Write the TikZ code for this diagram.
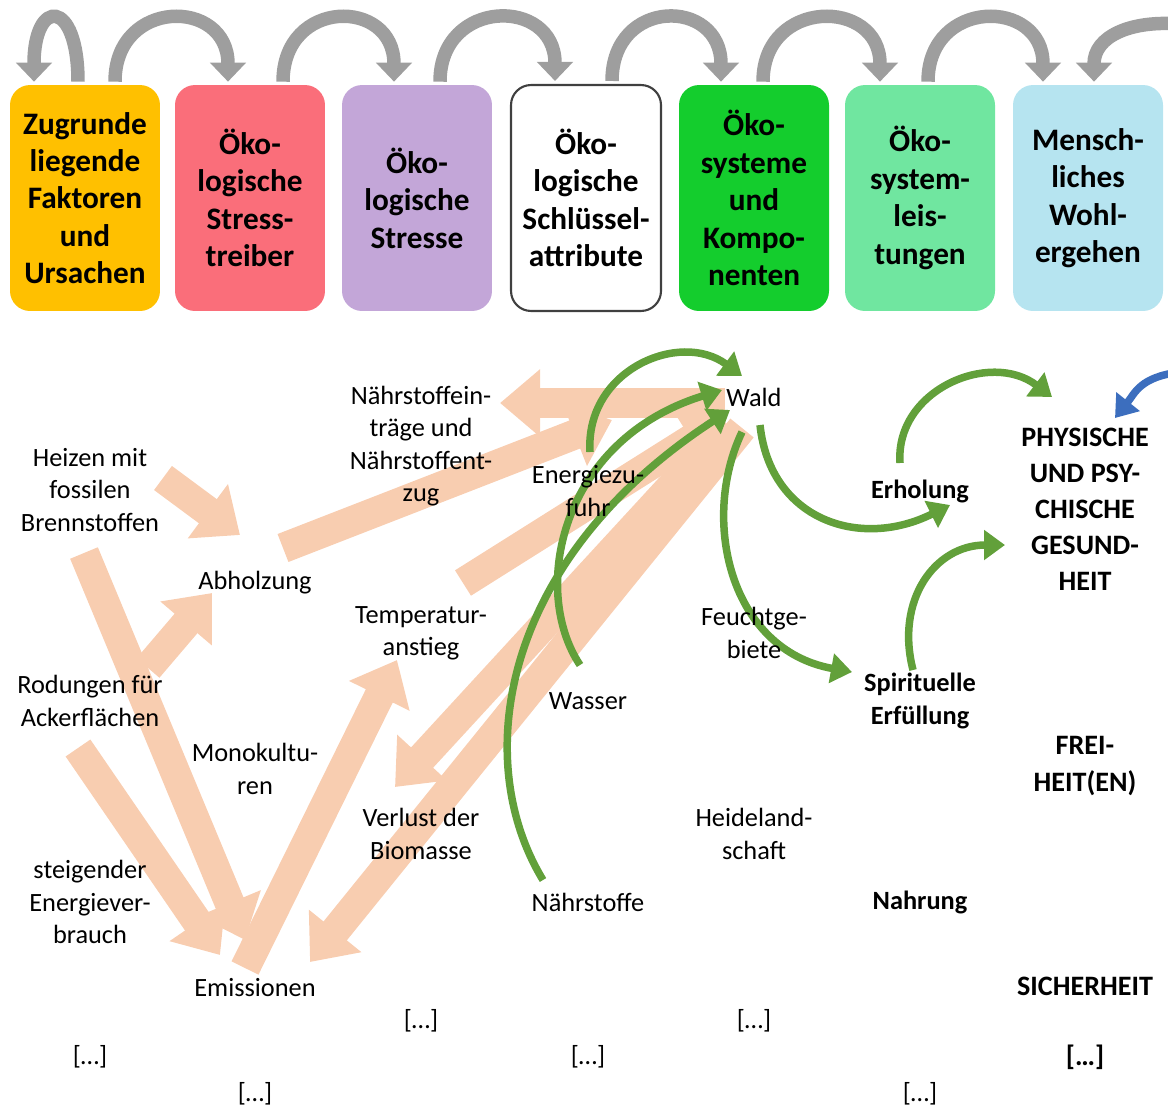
\documentclass[tikz,border=0pt]{standalone}
\usepackage{fontspec}
\setmainfont{Carlito}
\usetikzlibrary{arrows.meta,backgrounds}

\definecolor{gold}{RGB}{255,192,0}
\definecolor{rose}{RGB}{250,110,122}
\definecolor{lilac}{RGB}{195,166,216}
\definecolor{leaf}{RGB}{20,205,45}
\definecolor{mint}{RGB}{112,230,160}
\definecolor{sky}{RGB}{182,228,240}
\definecolor{peach}{RGB}{248,205,176}
\definecolor{grass}{RGB}{98,160,58}
\definecolor{arcgray}{RGB}{158,158,158}
\definecolor{bluearc}{RGB}{60,110,190}

\begin{document}
\begin{tikzpicture}[x=0.02cm, y=-0.02cm,
    every node/.style={font=\fontsize{15}{18.4}\selectfont, align=center, inner sep=1pt},
    boldlbl/.style={font=\fontsize{15}{18.4}\selectfont\bfseries},
    capslbl/.style={font=\fontsize{16}{20.5}\selectfont\bfseries},
    box/.style={rounded corners=0.4cm, minimum width=3cm, minimum height=4.52cm,
        font=\fontsize{17.8}{21.3}\selectfont\bfseries},
    grayarc/.style={draw=arcgray, line width=0.27cm, -{Triangle[width=0.7cm,length=0.38cm]}},
    flow/.style={draw=peach, line width=0.6cm, -{Triangle[width=1.3cm,length=0.8cm]}},
    eco/.style={draw=grass, line width=0.15cm, -{Triangle[width=0.58cm,length=0.42cm]}}]

    \useasboundingbox (0,0) rectangle (1168,1109);

    % Boxes
    \node[box, fill=gold]  (b1) at (85,198)   {Zugrunde\\liegende\\Faktoren\\und\\Ursachen};
    \node[box, fill=rose]  (b2) at (250,198)  {Öko-\\logische\\Stress-\\treiber};
    \node[box, fill=lilac] (b3) at (417,198)  {Öko-\\logische\\Stresse};
    \node[box, draw=black!75, line width=1.2pt, fill=white] (b4) at (586,198) {Öko-\\logische\\Schlüssel-\\attribute};
    \node[box, fill=leaf]  (b5) at (754,198)  {Öko-\\systeme\\und\\Kompo-\\nenten};
    \node[box, fill=mint]  (b6) at (920,198)  {Öko-\\system-\\leis-\\tungen};
    \node[box, fill=sky]   (b7) at (1088,198) {Mensch-\\liches\\Wohl-\\ergehen};

    % Arcs between the boxes
    \coordinate (offtop) at (1180,24);
    \draw[grayarc] ([shift={(-7,-3)}]b1.north) .. controls +(0,-84) and +(0,-84) .. ([shift={(-51,-3)}]b1.north);
    \draw[grayarc] ([shift={(30,-3)}]b1.north) .. controls +(0,-84) and +(0,-84) .. ([shift={(-22,-3)}]b2.north);
    \draw[grayarc] ([shift={(33,-3)}]b2.north) .. controls +(0,-84) and +(0,-84) .. ([shift={(-23,-3)}]b3.north);
    \draw[grayarc] ([shift={(23,-3)}]b3.north) .. controls +(0,-84) and +(0,-84) .. ([shift={(-31,-3)}]b4.north);
    \draw[grayarc] ([shift={(26,-3)}]b4.north) .. controls +(0,-84) and +(0,-84) .. ([shift={(-33,-3)}]b5.north);
    \draw[grayarc] ([shift={(9,-3)}]b5.north) .. controls +(0,-84) and +(0,-84) .. ([shift={(-40,-3)}]b6.north);
    \draw[grayarc] ([shift={(8,-3)}]b6.north) .. controls +(0,-84) and +(0,-84) .. ([shift={(-45,-3)}]b7.north);
    \draw[grayarc] (offtop) .. controls +(-50,-4) and +(0,-45) .. ([shift={(6,-3)}]b7.north);

    % Stress drivers and stresses
    \node (heizen)  at (90,490)  {Heizen mit\\fossilen\\Brennstoffen};
    \node (rodung)  at (90,701)  {Rodungen für\\Ackerflächen};
    \node (steig)   at (90,902)  {steigender\\Energiever-\\brauch};
    \node (abholz)  at (255,583) {Abholzung};
    \node (mono)    at (255,769) {Monokultu-\\ren};
    \node (emiss)   at (255,988) {Emissionen};
    \node (naehr)   at (421,446) {Nährstoffein-\\träge und\\Nährstoffent-\\zug};
    \node (temp)    at (421,633) {Temperatur-\\anstieg};
    \node (verlust) at (421,834) {Verlust der\\Biomasse};

    % Attributes and ecosystems
    \node (energie) at (588,491) {Energiezu-\\fuhr};
    \node (wasser)  at (588,701) {Wasser};
    \node (naehrst) at (588,902) {Nährstoffe};
    \node (wald)    at (754,397) {Wald};
    \node (feucht)  at (754,633) {Feuchtge-\\biete};
    \node (heide)   at (754,834) {Heideland-\\schaft};

    % Services and well-being
    \node[boldlbl] (erhol)   at (920,491) {Erholung};
    \node[boldlbl] (spirit)  at (920,701) {Spirituelle\\Erfüllung};
    \node[boldlbl] (nahrung) at (920,902) {Nahrung};
    \node[capslbl] (gesund)  at (1085,509) {PHYSISCHE\\UND PSY-\\CHISCHE\\GESUND-\\HEIT};
    \node[capslbl] (freiheit) at (1085,766) {FREI-\\HEIT(EN)};
    \node[capslbl] (sicher)  at (1085,986) {SICHERHEIT};

    % Omissions
    \node (dotsA) at (90,1057)  {[…]};
    \node (dotsB) at (255,1094) {[…]};
    \node (dotsC) at (421,1021) {[…]};
    \node (dotsD) at (588,1057) {[…]};
    \node (dotsE) at (754,1021) {[…]};
    \node (dotsF) at (920,1094) {[…]};
    \node[capslbl] (dotsG) at (1085,1057) {[…]};

    \begin{scope}[on background layer]
        % Stress flows
        \draw[flow] ([shift={(73,-12)}]heizen.center) -- ([shift={(-15,-48)}]abholz.center);
        \draw[flow] ([shift={(58,-33)}]rodung.center) -- ([shift={(-43,10)}]abholz.center);
        \draw[flow] ([shift={(-6,63)}]heizen.center) -- ([shift={(-10,-48)}]emiss.center);
        \draw[flow] ([shift={(-12,47)}]rodung.center) -- ([shift={(-35,-33)}]emiss.center);
        \draw[flow] ([shift={(-10,-20)}]emiss.center) -- ([shift={(-24,27)}]temp.center);
        \draw[flow] ([shift={(28,-35)}]abholz.center) -- ([shift={(24,-71)}]energie.center);
        \draw[flow] ([shift={(-29,6)}]wald.center) -- ([shift={(79,-43)}]naehr.center);
        \draw[flow] ([shift={(42,-50)}]temp.center) -- ([shift={(-29,21)}]wald.center);
        \draw[flow] ([shift={(-26,28)}]wald.center) -- ([shift={(-26,-47)}]verlust.center);
        \draw[flow] ([shift={(-12,31)}]wald.center) -- ([shift={(55,-26)}]emiss.center);

        % Ecosystem links
        \draw[eco] ([shift={(2,-39)}]energie.center) .. controls +(-5,-82) and +(-62,-46) .. ([shift={(-12,-21)}]wald.center);
        \draw[eco] ([shift={(-8,-36)}]wasser.center) .. controls +(-50,-75) and +(-162,50) .. ([shift={(-32,-7)}]wald.center);
        \draw[eco] ([shift={(-45,-22)}]naehrst.center) .. controls +(-73,-120) and +(-230,150) .. ([shift={(-24,13)}]wald.center);
        \draw[eco] ([shift={(6,28)}]wald.center) .. controls +(10,95) and +(-90,45) .. ([shift={(30,14)}]erhol.center);
        \draw[eco] ([shift={(-12,35)}]wald.center) .. controls +(-42,88) and +(-122,-22) .. ([shift={(-68,-29)}]spirit.center);
        \draw[eco] ([shift={(-20,-28)}]erhol.center) .. controls +(-5,-73) and +(-62,-47) .. ([shift={(-33,-112)}]gesund.center);
        \draw[eco] ([shift={(-7,-31)}]spirit.center) .. controls +(-18,-70) and +(-70,0) .. ([shift={(-80,36)}]gesund.center);
        \coordinate (offright) at (1180,372);
        \draw[eco, draw=bluearc] (offright) .. controls +(-40,5) and +(20,-25) .. ([shift={(30,-91)}]gesund.center);
    \end{scope}

\end{tikzpicture}
\end{document}
